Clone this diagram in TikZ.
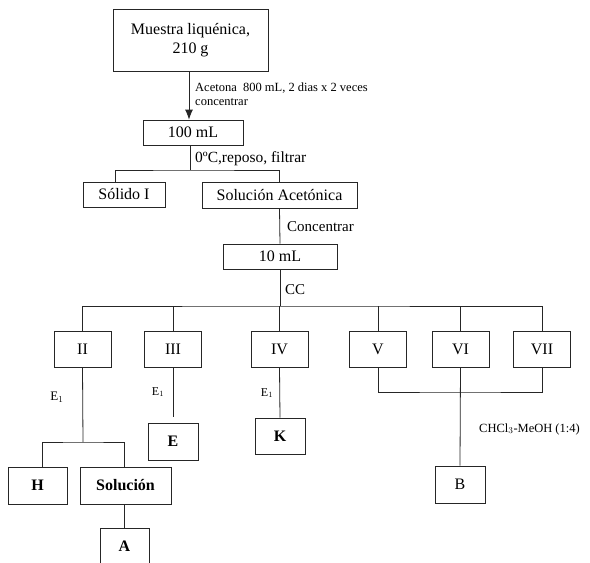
\documentclass[tikz,border=0pt]{standalone}
\usepackage{fontspec}
\setmainfont{Liberation Serif}
\usepackage{tikz}
\usetikzlibrary{arrows.meta}
\newcommand{\tamano}[1]{\fontsize{#1}{#1}\selectfont}
\tikzstyle{caja}=[draw=black!85,line width=.8pt,inner sep=0pt,font=\tamano{16}]
\tikzstyle{frac}=[caja,minimum width=57pt,minimum height=36pt]
\tikzstyle{comp}=[caja,minimum width=50pt,minimum height=37pt,font=\tamano{16}\bfseries]
\tikzstyle{nota}=[anchor=west,inner sep=0pt]
\tikzstyle{linea}=[draw=black!85,line width=.8pt]

\begin{document}
\begin{tikzpicture}[x=1pt,y=-1pt]
\useasboundingbox[fill=white] (0,0) rectangle (590,563);
% extraccion
\node[caja,minimum width=155pt,minimum height=62pt,align=center] (muestra) at (190.5,40) {Muestra liquénica,\\[3pt]210 g};
\node[caja,minimum width=100pt,minimum height=25pt] (cien) at (193,132.5) {100 mL};
\draw[linea,-{Latex[length=10pt,width=8pt]}] (muestra.south -| 189,0) -- (cien.north -| 189,0);
\node[nota,font=\tamano{12.5}] (acet) at (195,88) {Acetona\ \ 800 mL, 2 dias x 2 veces};
\node[nota,font=\tamano{12.5}] (conc1) at (195,102) {concentrar};
% filtracion
\node[caja,minimum width=82pt,minimum height=25pt] (solido) at (124,194.5) {Sólido I};
\node[caja,minimum width=155pt,minimum height=26pt] (solac) at (279.5,195) {Solución Acetónica};
\coordinate (s1) at (190,170);
\draw[linea] (s1 |- cien.south) -- (s1);
\draw[linea] ([xshift=-9pt]solido.north) |- (s1) -| (solac.north);
\node[nota,font=\tamano{15.5}] (filt) at (195,159) {0ºC,reposo, filtrar};
% concentrado
\node[caja,minimum width=114pt,minimum height=25pt] (diez) at (280,256.5) {10 mL};
\draw[linea] (solac.south) -- (diez.north);
\node[nota,font=\tamano{15}] (conc2) at (287,227) {Concentrar};
% columna
\node[frac] (II) at (82.5,349) {II};
\node[frac] (III) at (173,349) {III};
\node[frac] (IV) at (279.5,349) {IV};
\node[frac] (V) at (378,349) {V};
\node[frac] (VI) at (460.5,349) {VI};
\node[frac] (VII) at (542,349) {VII};
\coordinate (s2) at (280,306);
\draw[linea] (diez.south) -- (s2);
\draw[linea] (II.north) |- (s2) -| (VII.north);
\foreach \f in {III,IV,V,VI}
  \draw[linea] (\f.north) -- (\f.north |- s2);
\node[nota,font=\tamano{15}] (cc) at (285,290) {CC};
% fraccion II
\node[comp,minimum width=59pt] (H) at (37.5,485.5) {H};
\node[comp,minimum width=91pt] (sol) at (125.5,485.5) {Solución};
\node[comp,minimum width=49pt] (A) at (124.5,546.5) {A};
\coordinate (s3) at (83,442);
\draw[linea] (II.south) -- (s3);
\draw[linea] ([xshift=4.5pt]H.north) |- (s3) -| ([xshift=-1.5pt]sol.north);
\draw[linea] ([xshift=-1.5pt]sol.south) -- ([xshift=-.5pt]A.north);
\node[font=\tamano{13}] (e1a) at (57,397) {E$_1$};
% fracciones III y IV
\node[comp] (E) at (173,441.5) {E};
\draw[linea,shorten >=6pt] (III.south) -- (E.north);
\node[font=\tamano{12}] (e1b) at (158,392) {E$_1$};
\node[comp,minimum height=36pt] (K) at (280,436) {K};
\draw[linea] (IV.south) -- (K.north);
\node[font=\tamano{12}] (e1c) at (267,393) {E$_1$};
% fracciones V-VII
\node[comp,font=\tamano{16}] (B) at (460,484.5) {B};
\coordinate (s4) at (460,392);
\draw[linea] (V.south) |- (s4) -| (VII.south);
\draw[linea] (VI.south) -- (B.north);
\node[nota,font=\tamano{12.5}] (elu) at (479,429) {CHCl$_3$-MeOH (1:4)};
\end{tikzpicture}
\end{document}
